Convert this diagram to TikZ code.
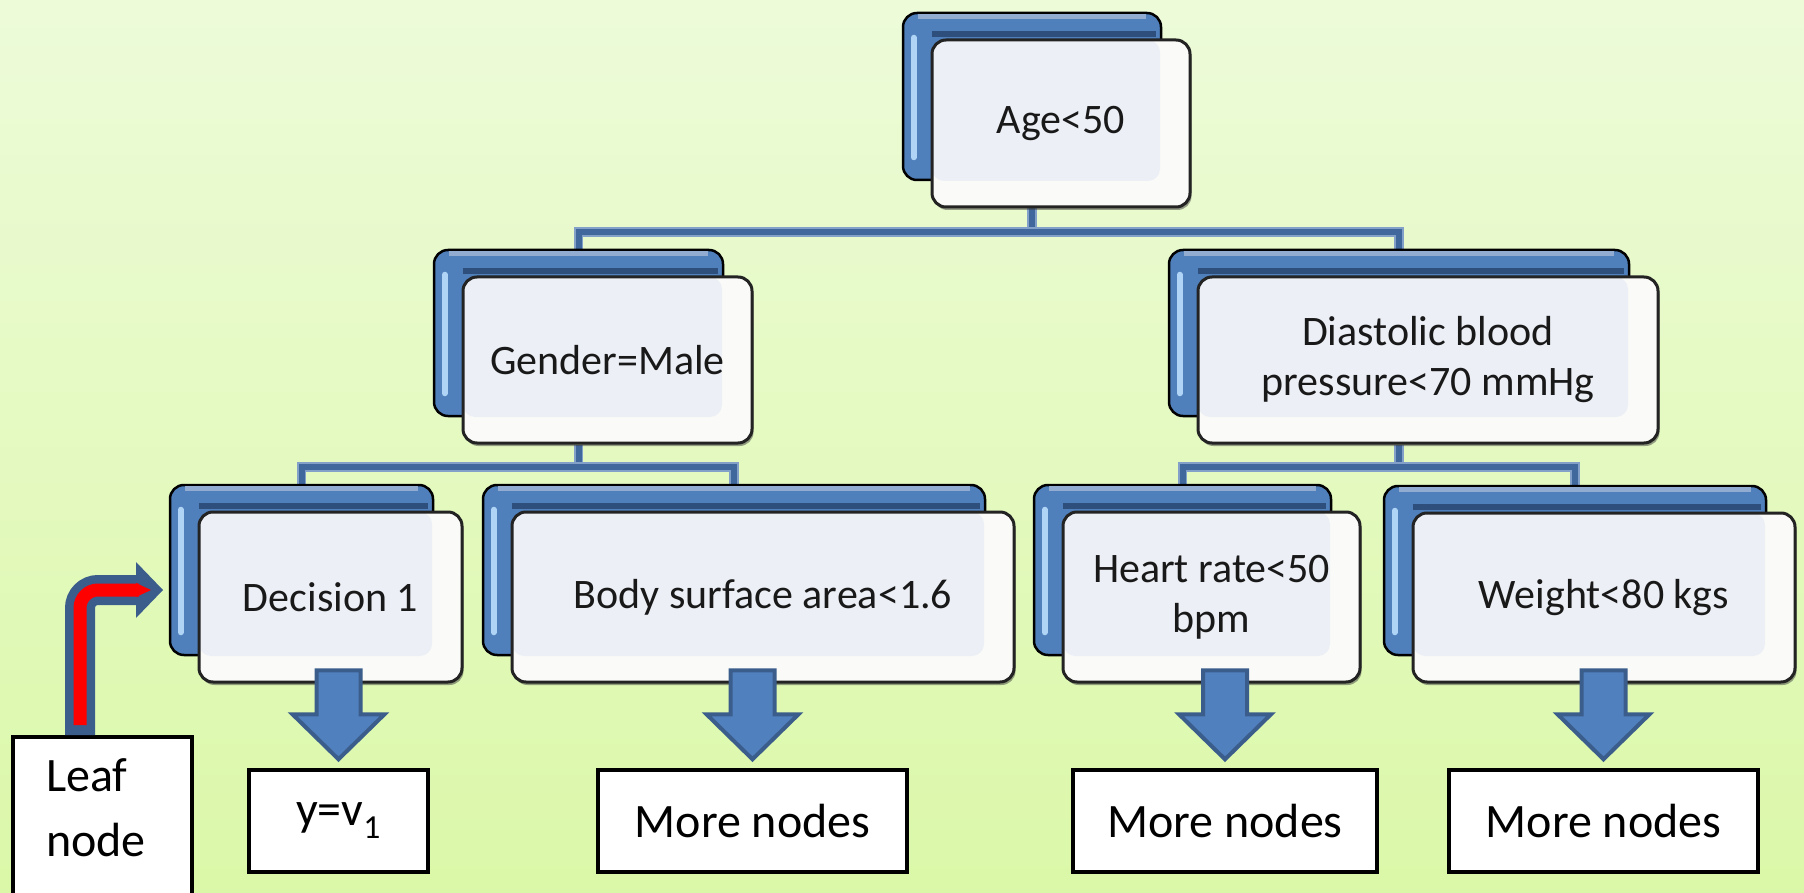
\documentclass[tikz,border=0pt]{standalone}
\usepackage{fontspec}
\setmainfont{Carlito}
\usetikzlibrary{shadows}
\definecolor{bgtop}{RGB}{237,251,217}
\definecolor{bgbot}{RGB}{219,248,168}
\definecolor{backblue}{RGB}{80,128,188}
\definecolor{backlight}{RGB}{175,212,245}
\definecolor{backtopc}{RGB}{145,172,208}
\definecolor{backdarkc}{RGB}{46,78,124}
\definecolor{frontwhite}{RGB}{250,251,248}
\definecolor{frontinner}{RGB}{236,240,246}
\definecolor{frontline}{RGB}{35,35,35}
\definecolor{txt}{RGB}{25,25,25}
\definecolor{connedge}{RGB}{130,160,200}
\definecolor{conninner}{RGB}{64,104,156}
\definecolor{arrowfill}{RGB}{80,128,190}
\definecolor{arrowline}{RGB}{58,93,140}
\definecolor{arrowred}{RGB}{255,0,0}
\pgfdeclarelayer{bg}
\pgfdeclarelayer{links}
\pgfsetlayers{bg,links,main}
\tikzset{
  back/.style={draw=black, line width=2.5pt, rounded corners=14pt, fill=backblue, inner sep=0pt},
  backhl/.style={draw=backlight, line width=6pt, line cap=round},
  backtop/.style={draw=backtopc, line width=5pt},
  backdark/.style={draw=backdarkc, line width=6pt},
  front/.style={draw=frontline, line width=3pt, rounded corners=14pt, fill=frontwhite,
    inner sep=4pt, align=center, text=txt, font=\fontsize{42}{50}\selectfont,
    preaction={fill=black!75, opacity=0.5, transform canvas={shift={(1.5pt,-3pt)}}},
    path picture={\fill[frontinner, rounded corners=12pt] (path picture bounding box.north west) rectangle ([shift={(-30,-26)}]path picture bounding box.south east);}},
  conn/.style={draw=connedge, line width=1.8pt, double=conninner, double distance=6pt},
  barrow/.style={fill=arrowfill, draw=arrowline, line width=4pt, line join=miter},
  leafbox/.style={draw=black, line width=3.5pt, fill=white, inner sep=0pt, text=black,
    font=\fontsize{48}{65}\selectfont},
  redout/.style={draw=arrowline, line width=30pt, rounded corners=18pt},
  redin/.style={draw=arrowred, line width=13pt, rounded corners=18pt},
}
\newcommand{\dnode}[6]{%
  \node[back, minimum width=#4, minimum height=#5] (#1b) at (#2-29,#3-27) {};
  \draw[backhl] ([shift={(12,26)}]#1b.north west) -- ([shift={(12,-24)}]#1b.south west);
  \draw[backtop] ([shift={(16,5)}]#1b.north west) -- ([shift={(-16,5)}]#1b.north east);
  \draw[backdark] ([shift={(30,22)}]#1b.north west) -- ([shift={(-6,22)}]#1b.north east);
  \node[front, minimum width=#4, minimum height=#5] (#1) at (#2,#3) {#6};
}
\newcommand{\barrowto}[1]{%
  \draw[barrow] ([shift={(-22,-98)}]#1.north) -- ([shift={(22,-98)}]#1.north)
    -- ([shift={(22,-54)}]#1.north) -- ([shift={(46,-54)}]#1.north)
    -- ([shift={(0,-9)}]#1.north) -- ([shift={(-46,-54)}]#1.north)
    -- ([shift={(-22,-54)}]#1.north) -- cycle;
}
\begin{document}
\begin{tikzpicture}[x=1pt,y=-1pt]
\useasboundingbox (0,0) rectangle (1804,893);
\begin{pgfonlayer}{bg}
  \fill[top color=bgtop, bottom color=bgbot] (0,0) rectangle (1804,893);
\end{pgfonlayer}

% decision nodes
\dnode{n1}{1061}{123.5}{258}{167}{Age<50}
\dnode{n2}{607.5}{360}{289}{166}{Gender=Male}
\dnode{n3}{1428}{360}{460}{166}{Diastolic blood\\pressure<70 mmHg}
\dnode{n4}{330.5}{597}{263}{170}{Decision 1}
\dnode{n5}{763}{597}{502}{170}{Body surface area<1.6}
\dnode{n6}{1211.5}{597}{297}{170}{Heart rate<50\\bpm}
\dnode{n7}{1604}{597.5}{382}{169}{Weight<80 kgs}

% connectors
\coordinate (bar1) at (0,232);
\coordinate (bar2) at (0,467);
\begin{pgfonlayer}{links}
  \draw[conn] (n1b.center |- n1.south) -- (n1b.center |- bar1);
  \draw[conn] (n2b.north) -- (n2b.north |- bar1) -- (n3b.north |- bar1) -- (n3b.north);
  \draw[conn] (n2b.center |- n2.south) -- (n2b.center |- bar2);
  \draw[conn] (n4b.north) -- (n4b.north |- bar2) -- (n5b.north |- bar2) -- (n5b.north);
  \draw[conn] (n3b.center |- n3.south) -- (n3b.center |- bar2);
  \draw[conn] (n6b.north) -- (n6b.north |- bar2) -- (n7b.north |- bar2) -- (n7b.north);
\end{pgfonlayer}

% leaf level boxes
\node[leafbox, minimum width=179, minimum height=102] (yv) at (338.5,821) {y=v\textsubscript{1}};
\node[leafbox, minimum width=309, minimum height=102] (m2) at (752.5,821) {More nodes};
\node[leafbox, minimum width=304, minimum height=102] (m3) at (1225,821) {More nodes};
\node[leafbox, minimum width=309, minimum height=102] (m4) at (1603.5,821) {More nodes};
\node[leafbox, anchor=north, text width=113, align=left, inner xsep=33, inner ysep=22,
  text depth=170pt] (leaf) at (102.5,735) {Leaf\\node};

% block arrows
\barrowto{yv}
\barrowto{m2}
\barrowto{m3}
\barrowto{m4}

% red bent arrow
\coordinate (rtip) at (163,590);
\coordinate (rbase) at ([xshift=-22.5pt]leaf.north);
\draw[redout] (rbase) -- (rbase |- rtip) -- ([shift={(-25,0)}]rtip);
\fill[arrowline] ([shift={(-27,-28)}]rtip) -- (rtip) -- ([shift={(-27,28)}]rtip) -- cycle;
\draw[redin] ([yshift=10pt]rbase) -- (rbase |- rtip) -- ([shift={(-24,0)}]rtip);
\fill[arrowred] ([shift={(-27,-7)}]rtip) -- ([shift={(-12,0)}]rtip) -- ([shift={(-27,7)}]rtip) -- cycle;
\end{tikzpicture}
\end{document}
